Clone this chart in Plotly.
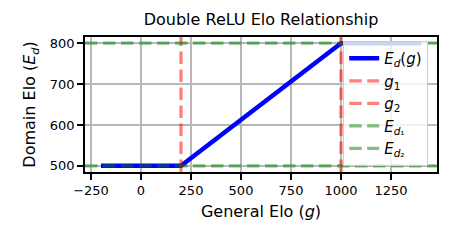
import plotly.graph_objects as go

# Data
g_points = [-200, 200, 1000, 1400]
ed_points = [500, 500, 800, 800]
g1, g2 = 200, 1000
ed1, ed2 = 500, 800
x_ticks = [-250, 0, 250, 500, 750, 1000, 1250]
y_ticks = [500, 600, 700, 800]

xmin, xmax = min(g_points), max(g_points)
ymin, ymax = min(ed_points), max(ed_points)
xpad = 0.05 * (xmax - xmin)
ypad = 0.05 * (ymax - ymin)

FONT = "DejaVu Sans"
RED = "rgba(255,0,0,0.5)"
GREEN = "rgba(0,128,0,0.5)"
DASH = "12.5px,5.5px"

fig = go.Figure()
fig.add_trace(go.Scatter(
    x=g_points, y=ed_points, mode="lines",
    line=dict(color="#0000ff", width=4.5),
    name="<i>E<sub>d</sub></i>(<i>g</i>)", legendrank=1,
))

def vline(x, name, rank):
    fig.add_shape(type="line", xref="x", yref="y domain", x0=x, x1=x, y0=0, y1=1,
                  line=dict(color=RED, width=3.3, dash=DASH),
                  showlegend=True, name=name, legendrank=rank, layer="above")

def hline(y, name, rank):
    fig.add_shape(type="line", xref="x domain", yref="y", x0=0, x1=1, y0=y, y1=y,
                  line=dict(color=GREEN, width=3.3, dash=DASH),
                  showlegend=True, name=name, legendrank=rank, layer="above")

vline(g1, "<i>g</i><sub>1</sub>", 2)
vline(g2, "<i>g</i><sub>2</sub>", 3)
hline(ed1, "<i>E</i><sub><i>d</i>₁</sub>", 4)
hline(ed2, "<i>E</i><sub><i>d</i>₂</sub>", 5)

axis_common = dict(
    showline=True, mirror=True, linecolor="black", linewidth=1.6,
    ticks="outside", ticklen=6, tickwidth=1.6, tickcolor="black",
    showgrid=True, gridcolor="#b8b8b8", gridwidth=1.8,
    zeroline=False, tickfont=dict(family=FONT, size=13, color="black"),
    automargin=False,
)

fig.update_xaxes(range=[xmin - xpad, xmax + xpad], tickvals=x_ticks,
                 title=dict(text="General Elo (<i>g</i>)", font=dict(family=FONT, size=16, color="black"), standoff=8),
                 **axis_common)
fig.update_yaxes(range=[ymin - ypad, ymax + ypad], tickvals=y_ticks,
                 title=dict(text="Domain Elo (<i>E<sub>d</sub></i>)", font=dict(family=FONT, size=16, color="black"), standoff=10),
                 **axis_common)

fig.update_layout(
    width=449, height=245,
    margin=dict(l=85, r=12, t=37, b=73),
    plot_bgcolor="white", paper_bgcolor="white",
    font=dict(family=FONT, color="black"),
    title=dict(text="Double ReLU Elo Relationship", x=(85 + 437) / 2 / 449, xanchor="center",
               y=1 - 19 / 245, yanchor="middle", font=dict(family=FONT, size=16, color="black")),
    legend=dict(x=0.975, y=0.97, xanchor="right", yanchor="top",
                bgcolor="rgba(255,255,255,0.8)", bordercolor="#cccccc", borderwidth=1,
                font=dict(family=FONT, size=15, color="black"), itemwidth=30,
                tracegroupgap=0),
    showlegend=True,
)

fig.write_html("out.html", config={"displayModeBar": False},
               post_script="document.body.style.margin='0';document.body.style.overflow='hidden';")
